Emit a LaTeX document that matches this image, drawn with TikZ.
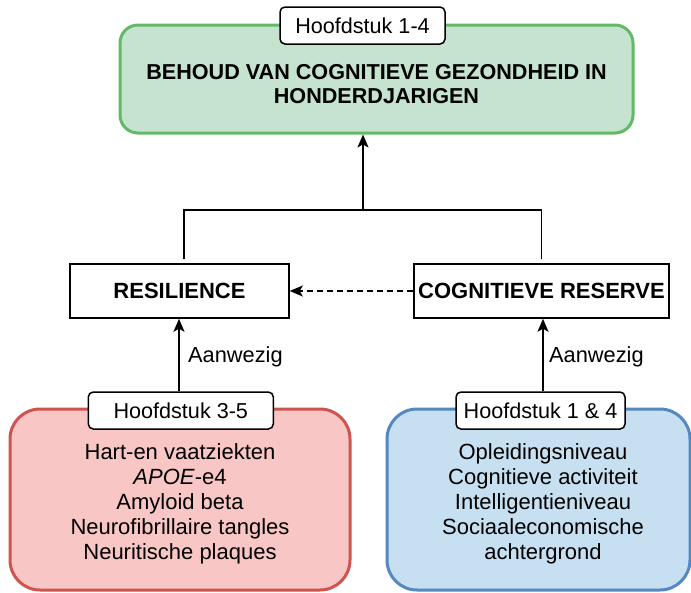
\documentclass[tikz,border=0pt]{standalone}
\usepackage{fontspec}
\setmainfont{Liberation Sans}
\usetikzlibrary{arrows.meta}
\definecolor{gfill}{RGB}{197,227,207}
\definecolor{gline}{RGB}{98,185,104}
\definecolor{rfill}{RGB}{248,198,196}
\definecolor{rline}{RGB}{206,84,80}
\definecolor{bfill}{RGB}{199,224,241}
\definecolor{bline}{RGB}{84,136,192}
\begin{document}
\begin{tikzpicture}[x=1pt,y=-1pt,
  bigbox/.style={draw, line width=3pt, rounded corners=18pt, inner sep=0pt, align=center},
  tagbox/.style={draw, fill=white, line width=1.5pt, rounded corners=5pt, inner sep=0pt,
    font=\fontsize{21.6}{25}\selectfont},
  midbox/.style={draw, fill=white, line width=1.5pt, inner sep=0pt,
    font=\fontsize{22}{26}\selectfont\bfseries},
  conn/.style={line width=1.5pt},
  arr/.style={conn, -{Stealth[length=13pt,width=11pt,inset=3pt]}},
  lbl/.style={font=\fontsize{21.8}{25}\selectfont, anchor=west, inner sep=0pt},
  body/.style={font=\fontsize{22}{25}\selectfont, align=center}
]
\useasboundingbox (0,0) rectangle (691,592);
% top green box
\node[bigbox, fill=gfill, draw=gline, minimum width=513pt, minimum height=108pt] (green) at (376.5,79) {};
\node[font=\fontsize{21.6}{24}\selectfont\bfseries, align=center] (title) at (376.5,84)
  {BEHOUD VAN COGNITIEVE GEZONDHEID IN\\HONDERDJARIGEN};
\node[tagbox, minimum width=165pt, minimum height=37pt] (t1) at (362.5,25.5) {Hoofdstuk 1-4};
% middle boxes
\node[midbox, minimum width=219pt, minimum height=54pt] (res) at (179.5,291) {RESILIENCE};
\node[midbox, minimum width=255pt, minimum height=54pt] (cog) at (541.5,291) {COGNITIEVE RESERVE};
% bottom boxes
\node[bigbox, rounded corners=30pt, fill=rfill, draw=rline, minimum width=340pt, minimum height=181pt] (red) at (180,499.5) {};
\node[body] (redtext) at (180,504) {Hart-en vaatziekten\\\textit{APOE}-e4\\Amyloid beta\\Neurofibrillaire tangles\\Neuritische plaques};
\node[tagbox, minimum width=185pt, minimum height=37pt] (t2) at (180.8,410.5) {Hoofdstuk 3-5};
\node[bigbox, rounded corners=30pt, fill=bfill, draw=bline, minimum width=303pt, minimum height=181pt] (blue) at (538.5,499.5) {};
\node[body] (bluetext) at (543,504) {Opleidingsniveau\\Cognitieve activiteit\\Intelligentieniveau\\Sociaaleconomische\\achtergrond};
\node[tagbox, minimum width=169pt, minimum height=37pt] (t3) at (540.5,410.5) {Hoofdstuk 1 \& 4};
% connectors
\coordinate (j) at (363,210);
\draw[conn] ([xshift=4.5pt,yshift=4pt]res.north) |- (j);
\draw[conn] ([yshift=4pt]cog.north) |- (j);
\draw[arr] (j) -- (green.south -| j);
\draw[arr, dash pattern=on 6pt off 4pt] (cog.west) -- (res.east);
\draw[arr] (t2.north -| 179,0) -- (res.south -| 179,0);
\draw[arr] (t3.north -| 543,0) -- (cog.south -| 543,0);
\node[lbl] (a1) at (188,357) {Aanwezig};
\node[lbl] (a2) at (549,357) {Aanwezig};
\end{tikzpicture}
\end{document}
